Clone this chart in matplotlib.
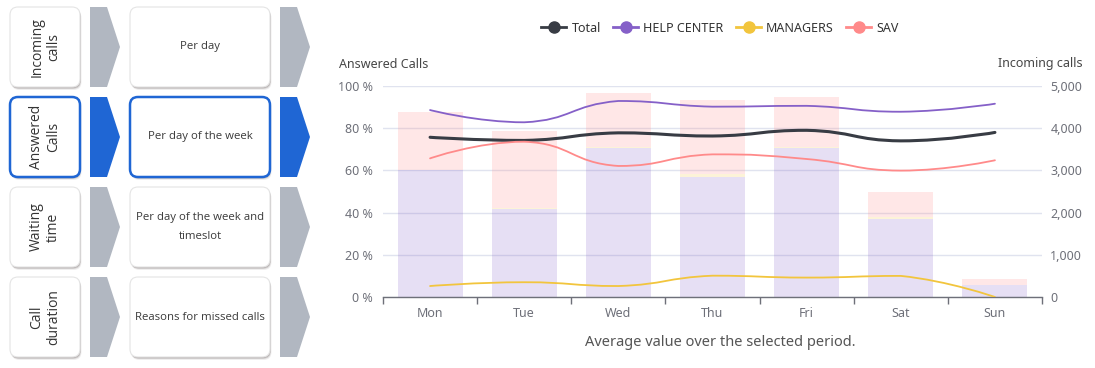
import numpy as np
import matplotlib
matplotlib.use("Agg")
import matplotlib.pyplot as plt
from matplotlib.patches import FancyBboxPatch, Polygon, PathPatch
from matplotlib.path import Path
from matplotlib.lines import Line2D
from matplotlib.ticker import FuncFormatter

plt.rcParams["font.family"] = ["Noto Sans", "DejaVu Sans"]

days = ["Mon", "Tue", "Wed", "Thu", "Fri", "Sat", "Sun"]

# incoming calls per day of week (right axis, stacked bars)
help_calls = [3000, 2085, 3530, 2850, 3540, 1850, 285]
managers_calls = [15, 25, 15, 60, 20, 40, 0]
sav_calls = [1370, 1825, 1290, 1760, 1180, 605, 140]

# answered calls rate in % (left axis, lines)
total_rate = [75.7, 74.2, 77.8, 76.3, 79.0, 74.0, 78.0]
help_rate = [88.6, 82.8, 92.9, 90.2, 90.6, 87.8, 91.6]
managers_rate = [5.2, 7.0, 5.2, 10.1, 9.2, 10.0, 0.0]
sav_rate = [65.7, 73.6, 62.1, 67.6, 65.4, 59.9, 64.8]

menu_left = ["Incoming\ncalls", "Answered\nCalls", "Waiting\ntime", "Call\nduration"]
menu_right = ["Per day", "Per day of the week",
              "Per day of the week and\ntimeslot", "Reasons for missed calls"]
selected = 1

C_TOTAL = "#383c44"
C_HELP = "#8560c8"
C_MAN = "#f2c53d"
C_SAV = "#ff8a8a"
C_AXIS = "#6e7079"
C_BLUE = "#1f66d4"
C_GRAY = "#b1b7c1"

W, H = 1095, 368
fig = plt.figure(figsize=(W / 100, H / 100), dpi=100)


def smooth_path(xs, ys, sx=94.1, sy=2.11, k=0.5):
    # echarts-like bezier smoothing, computed in pixel space
    px = np.asarray(xs, float) * sx
    py = np.asarray(ys, float) * sy
    n = len(px)
    cps = []
    for i in range(n):
        if i == 0 or i == n - 1:
            cps.append(((px[i], py[i]), (px[i], py[i])))
            continue
        vx = px[i + 1] - px[i - 1]
        vy = py[i + 1] - py[i - 1]
        l0 = np.hypot(px[i] - px[i - 1], py[i] - py[i - 1])
        l1 = np.hypot(px[i + 1] - px[i], py[i + 1] - py[i])
        r = l1 / (l0 + l1)
        c0x, c0y = px[i] - vx * k * (1 - r), py[i] - vy * k * (1 - r)
        c1x, c1y = px[i] + vx * k * r, py[i] + vy * k * r
        c0y = min(max(c0y, min(py[i - 1], py[i])), max(py[i - 1], py[i]))
        c1y = min(max(c1y, min(py[i + 1], py[i])), max(py[i + 1], py[i]))
        cps.append(((c0x, c0y), (c1x, c1y)))
    verts = [(px[0], py[0])]
    codes = [Path.MOVETO]
    for i in range(n - 1):
        verts += [cps[i][1], cps[i + 1][0], (px[i + 1], py[i + 1])]
        codes += [Path.CURVE4] * 3
    v = np.array(verts)
    v[:, 0] /= sx
    v[:, 1] /= sy
    return Path(v, codes)


# ---------------- left menu (pixel coords) ----------------
ax_m = fig.add_axes([0, 0, 1, 1])
ax_m.set_xlim(0, W)
ax_m.set_ylim(H, 0)
ax_m.axis("off")


def card(x, y, w, h, active):
    for dx, dy, a in [(1.5, 3.0, 0.08), (1.0, 2.0, 0.14), (0.5, 1.2, 0.20)]:
        ax_m.add_patch(FancyBboxPatch((x + dx, y + dy), w, h,
                                      boxstyle="round,pad=0,rounding_size=8",
                                      fc="#3a2a2a", ec="none", alpha=a))
    ax_m.add_patch(FancyBboxPatch((x, y), w, h,
                                  boxstyle="round,pad=0,rounding_size=8",
                                  fc="white",
                                  ec=C_BLUE if active else "#e4e4e4",
                                  lw=1.8 if active else 0.8))


def chevron(x, y, h, color):
    ax_m.add_patch(Polygon([(x, y), (x + 17, y), (x + 30, y + h / 2),
                            (x + 17, y + h), (x, y + h)],
                           closed=True, fc=color, ec="none"))


for i in range(4):
    y0 = 7 + i * 90
    act = i == selected
    col = C_BLUE if act else C_GRAY
    card(10, y0, 70, 80, act)
    ax_m.text(45, y0 + 40, menu_left[i], rotation=90, ha="center", va="center",
              fontsize=10, family="Open Sans", color="#333333", linespacing=1.15,
              multialignment="center")
    chevron(90, y0, 80, col)
    card(130, y0, 140, 80, act)
    ax_m.text(200, y0 + 40, menu_right[i], ha="center", va="center",
              fontsize=8.2, family="Open Sans", color="#3a3a3a", linespacing=1.9,
              multialignment="center")
    chevron(280, y0, 80, col)

# ---------------- chart ----------------
rect = [383 / W, (H - 297) / H, (1042 - 383) / W, (297 - 86) / H]
ax_b = fig.add_axes(rect)
ax_l = fig.add_axes(rect, facecolor="none")

x = np.arange(len(days))
bw = 0.69
bottom2 = np.array(help_calls) + np.array(managers_calls)
ax_b.bar(x, help_calls, bw, color=C_HELP, alpha=0.2, lw=0, zorder=2)
ax_b.bar(x, managers_calls, bw, bottom=help_calls, color=C_MAN, alpha=0.2, lw=0, zorder=2)
ax_b.bar(x, sav_calls, bw, bottom=bottom2, color=C_SAV, alpha=0.2, lw=0, zorder=2)

ax_b.set_xlim(-0.5, 6.5)
ax_b.set_ylim(0, 5000)
ax_b.set_yticks(np.arange(0, 5001, 1000))
ax_b.yaxis.tick_right()
ax_b.yaxis.set_major_formatter(FuncFormatter(lambda v, p: f"{int(v):,}"))
ax_b.grid(axis="y", color="#e0e3ef", lw=1, zorder=0)
ax_b.set_axisbelow(True)
for s in ["top", "left", "right"]:
    ax_b.spines[s].set_visible(False)
ax_b.spines["bottom"].set_color(C_AXIS)
ax_b.spines["bottom"].set_linewidth(1)
ax_b.set_xticks(x)
ax_b.set_xticklabels(days)
ax_b.set_xticks(np.arange(-0.5, 7, 1), minor=True)
ax_b.tick_params(axis="x", which="major", length=0, pad=7, labelsize=9, labelcolor=C_AXIS)
ax_b.tick_params(axis="x", which="minor", length=5, width=1, color=C_AXIS, direction="out")
ax_b.tick_params(axis="y", length=0, pad=6, labelsize=9, labelcolor=C_AXIS)

ax_l.set_xlim(-0.5, 6.5)
ax_l.set_ylim(0, 100)
ax_l.set_yticks(np.arange(0, 101, 20))
ax_l.yaxis.set_major_formatter(FuncFormatter(lambda v, p: f"{int(v)} %"))
ax_l.tick_params(axis="y", length=0, pad=7.5, labelsize=9, labelcolor=C_AXIS)
ax_l.set_xticks([])
for s in ax_l.spines.values():
    s.set_visible(False)

series = [(total_rate, C_TOTAL, 2.2), (help_rate, C_HELP, 1.3),
          (managers_rate, C_MAN, 1.3), (sav_rate, C_SAV, 1.3)]
for vals, col, lw in series:
    ax_l.add_patch(PathPatch(smooth_path(x, vals), fc="none", ec=col, lw=lw,
                             capstyle="round", joinstyle="round", zorder=3))

fig.text(339 / W, 1 - 64 / H, "Answered Calls", ha="left", va="center",
         fontsize=9, color="#464646")
fig.text(1083 / W, 1 - 64 / H, "Incoming calls", ha="right", va="center",
         fontsize=9, color="#464646")
fig.text(720 / W, 1 - 343 / H, "Average value over the selected period.",
         ha="center", va="center", fontsize=10.5, color="#555555")

handles = [Line2D([], [], color=c, lw=2, marker="o", markersize=8,
                  markerfacecolor=c, markeredgecolor=c)
           for c in [C_TOTAL, C_HELP, C_MAN, C_SAV]]
fig.legend(handles, ["Total", "HELP CENTER", "MANAGERS", "SAV"], ncol=4,
           loc="center", bbox_to_anchor=(720 / W, 1 - 28 / H), frameon=False,
           fontsize=9, handlelength=2.0, handletextpad=0.4, columnspacing=1.0,
           labelcolor="#333333")

fig.savefig("out.png", dpi=100)
